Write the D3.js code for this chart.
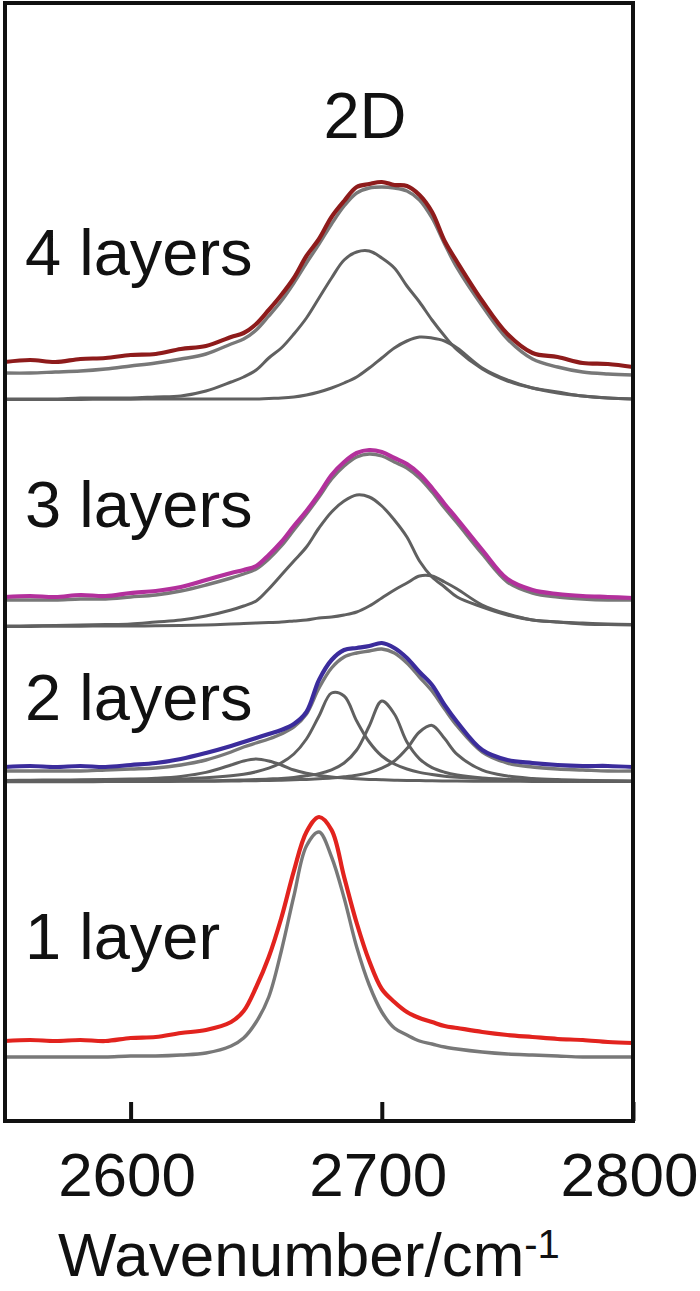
<!DOCTYPE html>
<html>
<head>
<meta charset="utf-8">
<script src="https://cdn.jsdelivr.net/npm/d3@7"></script>
<style>
  body { margin: 0; background: #fff; }
  svg { display: block; }
  text { font-family: "Liberation Sans", Arial, sans-serif; fill: #111; }
</style>
</head>
<body>
<script>
// Raman 2D band of 1-4 layer graphene, stacked with offsets
var wavenumbers = [2550, 2560, 2570, 2580, 2590, 2600, 2610, 2620, 2630, 2640, 2645, 2650, 2655, 2660, 2665,
    2670, 2675, 2680, 2685, 2690, 2695, 2700, 2705, 2710, 2715, 2720, 2725, 2730, 2740, 2750, 2760,
    2770, 2780, 2790, 2800];
var xTicks = [2600, 2700, 2800];
var panelNames = ["4 layers", "3 layers", "2 layers", "1 layer"];
var panelOffsets = [360.5, 247, 169.5, 32];   // vertical offset of each spectrum (a.u.)
var dataColors = ["#8e1b1b", "#b3309c", "#3b2c9c", "#e2231e"];

// 4 layers
var layer4Data = [19, 20, 19, 20.5, 21, 22.5, 23, 25.5, 27, 31.5, 33.5, 38, 45, 52.5, 61, 72, 80.5, 91.5, 99.5,
    106.5, 108, 109, 107.5, 107, 102.5, 94, 79.5, 69, 49.5, 33, 23.5, 21.5, 18.5, 18, 16.5];
var layer4Fit = [13.5, 13.5, 14, 14.5, 15.5, 17, 18.5, 20.5, 23, 28, 30.5, 35, 42, 49.5, 58.5, 68.5, 78, 88, 97,
    103.5, 106, 106.5, 106, 104.5, 100, 91, 78, 66, 47, 30.5, 20.5, 16.5, 14, 13, 12.5];
var layer4Peak1 = [0.5, 0.5, 0.5, 1, 1, 1, 1.5, 2, 4.5, 9, 11.5, 15, 21, 26, 33, 41, 51, 61, 70, 74, 74.5, 71,
    66, 57, 49, 40, 32, 25, 15.5, 9.5, 6, 4, 2, 1, 0.5];
var layer4Peak2 = [0.3, 0.3, 0.3, 0.3, 0.4, 0.4, 0.5, 0.5, 0.5, 0.5, 0.5, 0.5, 0.8, 1, 1.5, 2.5, 4, 6, 8.5, 11.5,
    16, 21, 26, 29.5, 31.5, 31, 29.5, 26, 16, 10, 6, 3.5, 2, 1, 0.5];

// 3 layers
var layer3Data = [15, 15.5, 15, 16, 15.5, 17, 18, 20, 23.5, 27, 28.5, 30.5, 36, 42.5, 50.5, 58, 66.5, 76, 82.5,
    87, 88.5, 87.5, 84.5, 81.5, 76.5, 69.5, 61.5, 54, 38.5, 24, 18.5, 16.5, 15.5, 15, 14.5];
var layer3Fit = [13.5, 13.5, 13.5, 14, 14, 15, 16, 18, 21, 24.5, 26.5, 29, 34, 40.5, 48.5, 56.5, 65, 74, 80.5,
    85, 86.5, 85.5, 82.5, 79.5, 74.5, 67.5, 59.5, 52, 36.5, 22.5, 17, 15, 14, 13.5, 13.5];
var layer3Peak1 = [0.5, 0.6, 0.8, 1, 1.2, 1.5, 2.5, 3.5, 5.5, 8.5, 10.5, 13, 19, 26, 33, 40, 49.5, 57.5, 63, 66,
    65, 60.5, 53.5, 45, 33, 25, 20, 15, 10, 6, 3.5, 2.5, 2, 1.5, 1.2];
var layer3Peak2 = [0.3, 0.3, 0.4, 0.4, 0.5, 0.5, 0.6, 0.7, 1, 1.5, 1.7, 2, 2.2, 2.5, 3, 3.5, 4.5, 5, 6, 7.5,
    10.5, 14.5, 18.5, 22, 25.5, 25.5, 22.5, 19, 11, 6.5, 3.5, 2.5, 1.5, 1.2, 1];

// 2 layers
var layer2Data = [7.5, 8, 7.5, 8, 7.5, 8.5, 9.5, 11.5, 14.5, 18, 20, 22, 24, 26, 29, 35, 51, 61, 66, 67, 68,
    69.5, 67, 62, 55, 48.5, 38.5, 30, 16, 11, 9.5, 8.5, 8, 8, 7.5];
var layer2Fit = [5.5, 5.5, 5.5, 5.5, 6, 6.5, 7, 8.5, 11, 15, 17.5, 19.5, 21.5, 24, 27.5, 34, 47, 57, 62.5, 64.5,
    65.5, 66.5, 64.5, 59.5, 52.5, 45.5, 36.5, 28, 15, 9.5, 7.5, 6.5, 6, 5.5, 5.5];
var layer2Peak1 = [0.8, 0.9, 1, 1.1, 1.3, 1.5, 1.9, 2.8, 4.8, 8.5, 10.5, 11.5, 10.5, 8.5, 6, 4.4, 3.3, 2.5, 2,
    1.6, 1.3, 1.1, 0.9, 0.8, 0.7, 0.6, 0.5, 0.5, 0.4, 0.4, 0.3, 0.3, 0.3, 0.3, 0.2];
var layer2Peak2 = [0.3, 0.4, 0.5, 0.6, 0.7, 0.9, 1.1, 1.5, 2.1, 3.1, 3.9, 5.1, 6.9, 9.6, 14, 21.5, 33, 44.5, 43,
    30.5, 20, 13, 9, 6.5, 4.8, 3.7, 2.9, 2.4, 1.7, 1.3, 0.9, 0.7, 0.6, 0.5, 0.4];
var layer2Peak3 = [0.2, 0.2, 0.2, 0.3, 0.3, 0.3, 0.4, 0.5, 0.6, 0.85, 1, 1.2, 1.5, 1.8, 2.3, 3.1, 4.2, 6.1, 9.5,
    16, 28, 40.5, 34, 20, 11.6, 7.2, 4.9, 3.5, 2, 1.3, 0.9, 0.7, 0.5, 0.4, 0.3];
var layer2Peak4 = [0.1, 0.1, 0.15, 0.15, 0.2, 0.23, 0.28, 0.33, 0.4, 0.5, 0.58, 0.67, 0.78, 0.9, 1.1, 1.3, 1.6,
    2, 2.6, 3.4, 4.7, 6.9, 10.5, 16.7, 25, 28.3, 21.7, 13.8, 5.9, 3, 1.8, 1.2, 0.85, 0.6, 0.5];

// 1 layer
var layer1Data = [8, 8.5, 8, 8.5, 8, 9.5, 10, 12, 13.5, 17.5, 23, 35, 50, 69.5, 93, 112.5, 120, 113.5, 90, 67,
    48, 34, 27.5, 22.5, 19.5, 17.5, 15.5, 14.5, 12.5, 11, 10, 9, 8.5, 7.5, 7];
var layer1Fit = [0, 0, 0, 0, 0, 0.5, 0.5, 1, 2, 5.5, 9.5, 17.5, 30, 53, 80.5, 105.5, 112.5, 100, 79.5, 55,
    36, 22.5, 14.5, 11, 8, 6.5, 5, 4, 2.5, 1.5, 1, 0.5, 0, 0, 0];

var panels = [
    {data: layer4Data, fit: layer4Fit, peaks: [layer4Peak1, layer4Peak2]},
    {data: layer3Data, fit: layer3Fit, peaks: [layer3Peak1, layer3Peak2]},
    {data: layer2Data, fit: layer2Fit, peaks: [layer2Peak1, layer2Peak2, layer2Peak3, layer2Peak4]},
    {data: layer1Data, fit: layer1Fit, peaks: []}
];

var width = 700, height = 1291;
var frame = {left: 5, right: 633, top: 3, bottom: 1121};

var xScale = d3.scaleLinear()
        .domain([2550, 2800])
        .range([frame.left, frame.right]);
var yScale = d3.scaleLinear()
        .domain([0, 560])
        .range([frame.bottom, 1]);

var svg = d3.select("body").append("svg")
        .attr("width", width)
        .attr("height", height);

// spectra
function drawCurve(values, offset, color, lw) {
    var line = d3.line()
        .x(function(d, i) { return xScale(wavenumbers[i]); })
        .y(function(d) { return yScale(offset + d); })
        .curve(d3.curveCatmullRom.alpha(0.5));
    svg.append("path")
        .datum(values)
        .attr("d", line)
        .attr("fill", "none")
        .attr("stroke", color)
        .attr("stroke-width", lw)
        .attr("stroke-linejoin", "round");
}

panels.forEach(function(p, k) {
    var off = panelOffsets[k];
    p.peaks.forEach(function(pk) { drawCurve(pk, off, "#606060", 3); });
    drawCurve(p.fit, off, "#787878", 3.4);
    drawCurve(p.data, off, dataColors[k], 4.2);
});

// frame
svg.append("rect")
    .attr("x", frame.left)
    .attr("y", frame.top)
    .attr("width", frame.right - frame.left)
    .attr("height", frame.bottom - frame.top)
    .attr("fill", "none")
    .attr("stroke", "#111")
    .attr("stroke-width", 4);

// x axis
var xAxis = d3.axisBottom(xScale)
    .tickValues(xTicks)
    .tickFormat(d3.format("d"))
    .tickSizeInner(-19)
    .tickSizeOuter(0)
    .tickPadding(31);
var gx = svg.append("g")
    .attr("transform", "translate(0," + frame.bottom + ")")
    .call(xAxis);
gx.select(".domain").remove();
gx.selectAll(".tick line").attr("stroke", "#111").attr("stroke-width", 4);
gx.selectAll(".tick text")
    .attr("dx", -4)
    .style("font-size", "62px")
    .style("font-family", "'Liberation Sans', Arial, sans-serif")
    .attr("fill", "#111");

// axis title
var title = svg.append("text")
    .attr("x", 58)
    .attr("y", 1276)
    .style("font-size", "62px");
title.append("tspan").text("Wavenumber/cm");
title.append("tspan").text("-1")
    .style("font-size", "40px")
    .attr("dy", -18);

// band label
svg.append("text")
    .attr("x", 365)
    .attr("y", 138)
    .attr("text-anchor", "middle")
    .style("font-size", "65px")
    .text("2D");

// layer labels
var labelBaselines = [275, 527, 720, 959];
panelNames.forEach(function(name, k) {
    svg.append("text")
        .attr("x", 25)
        .attr("y", labelBaselines[k])
        .style("font-size", "65px")
        .text(name);
});
</script>
</body>
</html>
